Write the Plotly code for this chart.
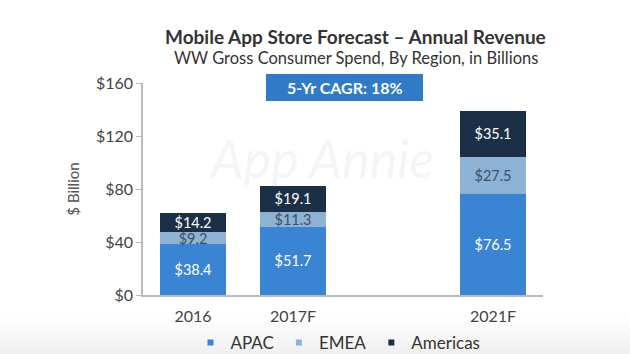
import plotly.graph_objects as go

categories = ["2016", "2017F", "2021F"]
x_pos = [0, 1, 3]
apac = [38.4, 51.7, 76.5]
emea = [9.2, 11.3, 27.5]
americas = [14.2, 19.1, 35.1]
y_ticks = [0, 40, 80, 120, 160]
y_tick_labels = ["$0", "$40", "$80", "$120", "$160"]

FONT = "Lato, Open Sans, sans-serif"
H_PLOT = 212.0
B = 59.0


def py(px):
    """pixel y (from top) -> paper y"""
    return (354 - px - B) / H_PLOT


def px_(x):
    return (x - 143) / 400.0


fig = go.Figure()

# soft grey gradient at the bottom
n = 12
for i in range(n):
    top = 318 + i * 3
    shade = 253 - int(i * 1.2)
    c = f"rgb({shade},{shade},{shade})"
    fig.add_shape(type="rect", xref="paper", yref="paper",
                  x0=-0.5, x1=1.5, y0=py(354), y1=py(top),
                  fillcolor=c, line=dict(width=0), layer="below")

# watermark (drawn below the bars)
fig.add_shape(type="rect", xref="paper", yref="paper",
              x0=px_(215), x1=px_(430), y0=py(178), y1=py(135),
              fillcolor="rgba(0,0,0,0)", line=dict(width=0), layer="below",
              label=dict(text="<i>App Annie</i>",
                         font=dict(family=FONT, size=52, color="#f3f5f7"),
                         textposition="middle center"))

series = [
    ("APAC", apac, "#3a84d4", "white"),
    ("EMEA", emea, "#8db2d4", "#3d4f63"),
    ("Americas", americas, "#1b2f47", "white"),
]
for name, vals, color, tcolor in series:
    fig.add_trace(go.Bar(
        x=x_pos, y=vals, name=name, width=0.66, showlegend=False,
        marker=dict(color=color, line=dict(width=0)),
        text=[f"${v:.1f}" for v in vals],
        textposition="inside", insidetextanchor="middle",
        textfont=dict(family=FONT, size=14.5, color=tcolor),
        cliponaxis=False,
    ))
for name, vals, color, tcolor in series:
    fig.add_trace(go.Scatter(
        x=[None], y=[None], name=name, mode="markers",
        marker=dict(symbol="square", size=6, color=color),
    ))

fig.update_layout(
    width=630, height=354,
    margin=dict(l=143, r=87, t=83, b=59, autoexpand=False),
    paper_bgcolor="white", plot_bgcolor="rgba(0,0,0,0)",
    barmode="stack",
    showlegend=True,
    uniformtext=dict(minsize=14, mode="show"),
    legend=dict(orientation="h", x=px_(338), xanchor="center", y=py(343), yanchor="middle",
                font=dict(family=FONT, size=17, color="#333"),
                itemwidth=30, traceorder="normal", bgcolor="rgba(0,0,0,0)",
                tracegroupgap=0),
    xaxis=dict(range=[-0.5, 3.5], tickvals=x_pos, ticktext=categories,
               showline=True, linecolor="#bbbbbb", linewidth=1.5, showgrid=False,
               zeroline=False, ticks="", ticklabelstandoff=6,
               tickfont=dict(family=FONT, size=16, color="#444")),
    yaxis=dict(range=[0, 160], tickvals=y_ticks, ticktext=y_tick_labels,
               showline=True, linecolor="#bbbbbb", linewidth=1.5, showgrid=False,
               zeroline=False, ticks="outside", ticklen=5, tickcolor="#bbbbbb",
               tickfont=dict(family=FONT, size=16, color="#444"),
               title=dict(text="$ Billion", font=dict(family=FONT, size=15, color="#555"),
                          standoff=13)),
    font=dict(family=FONT),
)

fig.add_annotation(xref="paper", yref="paper", x=px_(355), y=py(37),
                   yanchor="middle", showarrow=False,
                   text="<b>Mobile App Store Forecast – Annual Revenue</b>",
                   font=dict(family=FONT, size=19, color="#333"))
fig.add_annotation(xref="paper", yref="paper", x=px_(356), y=py(58),
                   yanchor="middle", showarrow=False,
                   text="WW Gross Consumer Spend, By Region, in Billions",
                   font=dict(family=FONT, size=16.5, color="#333"))
# CAGR box
fig.add_shape(type="rect", xref="paper", yref="paper",
              x0=px_(266), x1=px_(423), y0=py(101), y1=py(74),
              fillcolor="#2f7bc8", line=dict(width=0))
fig.add_annotation(xref="paper", yref="paper", x=px_(344.5), y=py(87.5),
                   yanchor="middle", showarrow=False,
                   text="<b>5-Yr CAGR: 18%</b>",
                   font=dict(family=FONT, size=16, color="white"))

fig.write_html("out.html")
